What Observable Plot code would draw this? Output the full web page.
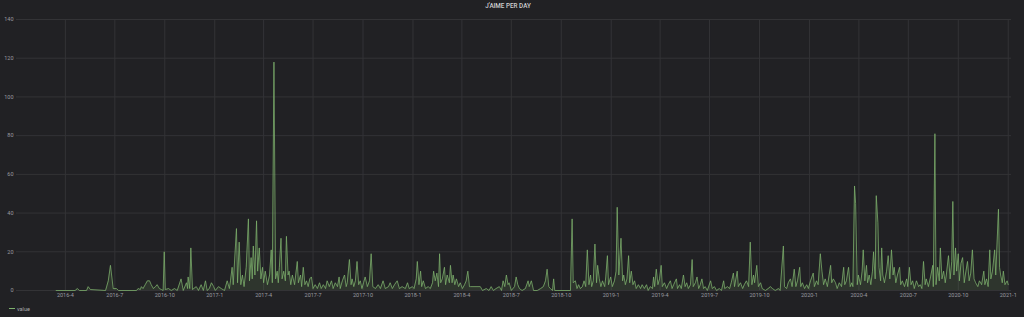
<!DOCTYPE html>
<html>
<head>
<meta charset="utf-8">
<script src="https://cdn.jsdelivr.net/npm/d3@7"></script>
<script src="https://cdn.jsdelivr.net/npm/@observablehq/plot@0.6"></script>
<style>
  html, body { margin: 0; padding: 0; background: #212124; }
  #wrap { width: 1024px; height: 317px; background: #212124; font-family: Roboto, "Noto Sans", sans-serif; overflow: hidden; }
  #title { height: 12px; line-height: 12px; text-align: center; font-size: 6.3px; font-weight: 500; color: #cfcfd2; padding-right: 8px; }
  #legend { height: 17px; display: flex; align-items: center; padding-left: 9px; font-size: 5.5px; color: #a8a8ac; }
  #legend .sw { display: inline-block; width: 6px; height: 1.3px; background: #7eb26d; margin-right: 2px; }
</style>
</head>
<body>
<div id="wrap">
  <div id="title">J'AIME PER DAY</div>
  <div id="chart"></div>
  <div id="legend"><span class="sw"></span><span>value</span></div>
</div>
<script>
// Days since 2016-03-15 (UTC)
const startDate = "2016-03-15";
const days = [
0,35,39,43,56,59,63,91,96,100,105,111,115,148,151,155,157,160,164,168,
172,175,179,183,186,190,194,197,199,201,207,212,218,223,230,234,240,242,243,246,
248,251,258,262,267,271,275,278,282,286,290,293,299,304,310,315,319,321,324,326,
332,334,337,340,343,346,350,354,356,359,361,363,366,369,371,374,377,380,382,385,
389,393,396,398,401,404,407,409,411,414,416,419,422,424,427,429,432,435,439,444,
446,450,452,455,458,461,464,467,470,473,477,481,485,488,492,496,499,503,507,510,
514,518,521,523,527,531,534,536,540,543,545,548,551,554,557,560,563,566,569,573,
577,580,583,588,593,597,602,606,612,615,619,623,628,632,637,643,647,650,656,659,
663,665,668,671,673,676,680,685,689,693,695,698,701,704,706,708,711,715,717,720,
724,726,729,731,734,737,741,744,748,752,755,758,761,763,781,785,792,797,801,805,
810,816,820,823,826,829,832,834,838,844,847,850,853,858,864,869,871,875,879,886,
892,897,901,904,907,910,914,916,918,947,950,952,956,959,962,965,969,972,975,978,
981,984,986,989,992,995,997,1000,1003,1006,1010,1012,1015,1017,1021,1024,1028,1031,1033,1036,
1040,1043,1045,1048,1051,1054,1056,1059,1062,1065,1068,1072,1076,1079,1083,1087,1090,1094,1098,1100,
1102,1105,1108,1111,1114,1116,1120,1124,1127,1131,1134,1137,1142,1144,1148,1151,1155,1158,1161,1164,
1168,1171,1173,1177,1180,1183,1186,1189,1192,1195,1199,1205,1208,1212,1216,1221,1225,1229,1231,1236,
1240,1243,1247,1249,1254,1256,1260,1264,1267,1271,1275,1278,1281,1284,1286,1290,1293,1297,1300,1306,
1311,1315,1319,1324,1330,1333,1339,1341,1345,1348,1352,1355,1359,1362,1365,1369,1371,1374,1378,1382,
1385,1389,1394,1396,1400,1403,1407,1410,1413,1416,1420,1426,1428,1431,1435,1438,1442,1446,1450,1452,
1455,1459,1462,1465,1467,1470,1472,1475,1477,1481,1484,1486,1489,1492,1494,1497,1500,1503,1505,1508,
1510,1513,1515,1518,1520,1522,1525,1529,1532,1535,1538,1541,1543,1546,1549,1553,1555,1558,1562,1566,
1568,1571,1574,1577,1580,1584,1588,1591,1594,1597,1600,1602,1606,1610,1614,1615,1618,1620,1623,1626,
1628,1631,1634,1637,1639,1643,1646,1649,1651,1653,1656,1658,1661,1663,1666,1669,1672,1674,1678,1681,
1684,1687,1690,1693,1697,1700,1704,1708,1710,1713,1716,1719,1721,1724,1728,1730,1735,1737,1739,1742,
1744,1747,1751,1753
];
const likes = [
0,0,1,0,0,2,0.5,0,5,13,1,1,0,0,1,0.5,2,1,3,5,
5,3,1,2,3,1,0.5,0,20,0.5,1,0,1,0,6,0,4,1,7,1,
22,0.5,2,0,3,0,5,0,1,4,2,0,2,1,0,5,1,5,12,3,
32,4,25,3,8,2,12,37,5,17,6,23,8,36,10,22,6,12,4,10,
3,8,21,4,118,6,10,4,12,27,6,10,5,28,8,10,3,8,3,15,
4,8,2,12,3,5,2,6,7,1,3,1,4,1,3,1,5,2,5,1,
4,2,7,1,5,8,2,4,16,3,6,2,5,15,3,5,1,4,7,2,
5,19,2,1,3,1,5,1,2,4,1,3,5,1,2,1,4,1,2,1,
6,15,3,10,2,5,1,2,1,4,10,5,9,2,19,4,6,12,3,8,
4,13,4,8,3,6,2,4,1,3,5,10,2,2,2,0,1,0,2,0,
1,2,0,5,2,8,3,4,0,2,7,3,1,0,1,5,2,5,0,0,
1,2,5,11,2,1,0,6,0,0,37,4,5,1,3,1,2,5,2,21,
3,8,2,5,24,4,13,6,2,5,2,7,18,3,7,2,5,10,43,8,
27,5,8,3,6,18,4,10,3,5,1,3,1,3,1,3,0,2,1,7,
2,11,3,6,13,2,4,1,3,5,1,3,6,1,3,1,8,2,4,1,
3,16,2,4,7,1,3,6,1,2,0,5,1,2,0,1,0,5,1,2,
1,4,9,2,10,2,4,1,3,5,2,25,3,8,4,13,2,4,1,0,
1,2,1,0,1,0,23,2,1,4,6,2,11,2,5,12,2,4,1,3,
1,5,9,2,5,3,19,10,3,6,2,13,4,6,4,1,4,2,12,3,
5,12,2,4,2,54,45,3,8,3,10,21,5,13,4,8,3,10,20,6,
49,35,12,5,22,8,4,10,18,6,21,8,12,4,8,12,3,5,2,6,
2,12,3,5,1,5,2,3,1,15,3,6,2,7,13,2,81,3,12,5,
22,6,10,4,8,18,6,15,46,8,22,10,19,5,14,17,4,8,15,5,
9,21,6,4,2,5,3,10,3,6,2,21,6,10,21,8,42,12,8,4,
10,3,5,3
];
// Axis ticks
const xTickLabels = ["2016-4","2016-7","2016-10","2017-1","2017-4","2017-7","2017-10","2018-1","2018-4","2018-7","2018-10","2019-1","2019-4","2019-7","2019-10","2020-1","2020-4","2020-7","2020-10","2021-1"];
const yTicks = [0, 20, 40, 60, 80, 100, 120, 140];
const xDomain = ["2016-01-02", "2021-01-07"];

const base = d3.utcParse("%Y-%m-%d")(startDate);
const data = days.map((d, i) => ({ date: d3.utcDay.offset(base, d), value: likes[i] }));
const parseMonth = d3.utcParse("%Y-%m");
const xTicks = xTickLabels.map(parseMonth);
const fmt = d => `${d.getUTCFullYear()}-${d.getUTCMonth() + 1}`;

const green = "#7eb26d";
const gridColor = "#333336";

const chart = Plot.plot({
  width: 1024,
  height: 288,
  marginLeft: 16,
  marginRight: 13,
  marginTop: 7,
  marginBottom: 10,
  style: { background: "transparent", color: "#9a9aa0", fontFamily: "Roboto, sans-serif", fontSize: "5.5px", overflow: "visible" },
  x: { type: "utc", domain: xDomain.map(d3.utcParse("%Y-%m-%d")) },
  y: { domain: [0, 140] },
  marks: [
    Plot.gridX(xTicks, { stroke: gridColor, strokeOpacity: 1 }),
    Plot.gridY(yTicks, { stroke: gridColor, strokeOpacity: 1 }),
    Plot.areaY(data, { x: "date", y: "value", fill: green, fillOpacity: 0.14 }),
    Plot.lineY(data, { x: "date", y: "value", stroke: green, strokeWidth: 0.9, strokeOpacity: 0.85 }),
    Plot.axisX(xTicks, { tickSize: 0, tickPadding: 3, tickFormat: fmt, label: null, fill: "#9a9aa0" }),
    Plot.axisY(yTicks, { tickSize: 0, tickPadding: 3, label: null, fill: "#9a9aa0" })
  ]
});
document.getElementById("chart").appendChild(chart);
</script>
</body>
</html>
